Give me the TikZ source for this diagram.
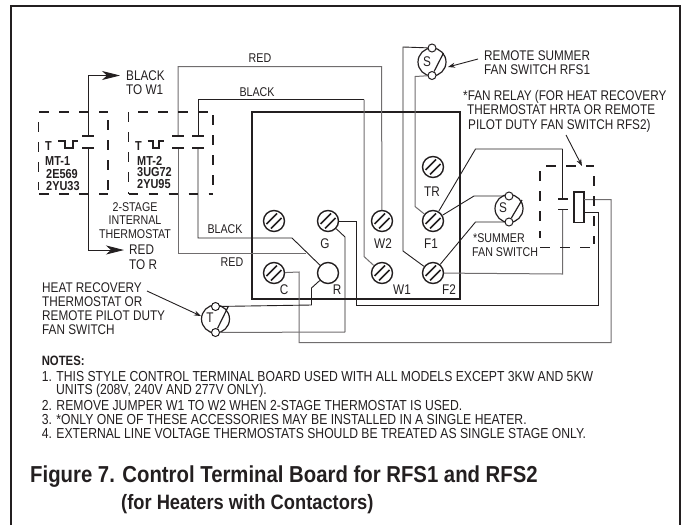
\documentclass[tikz,border=0pt]{standalone}
\usepackage{fontspec}
\setmainfont[FakeStretch=0.84]{Liberation Sans}
\newfontfamily\titlefont[FakeStretch=0.88]{Liberation Sans}
\usepackage{xcolor}
\usepackage{tikz}
\usetikzlibrary{arrows.meta, positioning}
\definecolor{inkline}{HTML}{231F20}
\tikzset{
  wire/.style={line width=0.9pt, draw=inkline},
  greywire/.style={line width=1pt, draw=inkline!65},
  board/.style={line width=1.6pt, draw=inkline},
  dashbox/.style={line width=1.3pt, draw=inkline, dash pattern=on 9.5pt off 10.5pt},
  contact/.style={line width=1.3pt, draw=inkline},
  screw/.style={circle, draw=inkline, line width=1.4pt, minimum size=21pt, inner sep=0pt, fill=white},
  tiny/.style={circle, draw=inkline, line width=1pt, minimum size=8pt, inner sep=0pt, fill=white},
  swbody/.style={circle, draw=inkline, line width=1.2pt, minimum size=28pt, inner sep=0pt},
  lbl/.style={font=\fontsize{14}{15}\selectfont, text=inkline, inner sep=0pt, text height=9.6pt, text depth=0pt},
  lblL/.style={lbl, anchor=west},
  wirelbl/.style={lbl, font=\fontsize{12.7}{14}\selectfont},
  boldlbl/.style={font=\fontsize{13}{14}\selectfont\bfseries, text=inkline, inner sep=0pt, anchor=west},
  note/.style={font=\fontsize{14.5}{15}\selectfont, text=inkline, inner sep=0pt, anchor=west, text height=10pt, text depth=0pt},
  title/.style={font=\titlefont\fontsize{23.1}{24}\selectfont\bfseries, text=inkline, inner sep=0pt, anchor=west, text height=16pt, text depth=0pt},
  subtitle/.style={title, font=\titlefont\fontsize{20.8}{22}\selectfont\bfseries, text height=15pt},
  pointer/.style={line width=0.9pt, draw=inkline, -{Stealth[length=7pt,width=5pt]}},
  bigarrow/.style={line width=0.9pt, draw=inkline, -{Stealth[length=18pt,width=9pt,inset=5pt]}}
}
\newcommand{\screwhatch}[1]{
  \draw[line width=1.6pt, draw=inkline] ([shift={(-7.5,3)}]#1.center) -- ([shift={(3,-7.5)}]#1.center);
  \draw[line width=1.6pt, draw=inkline] ([shift={(-3,7.5)}]#1.center) -- ([shift={(7.5,-3)}]#1.center);
}
\begin{document}
\begin{tikzpicture}[x=1pt,y=-1pt]
\useasboundingbox (0,0) rectangle (684,525);
% frame
\draw[line width=2.6pt, draw=inkline] (11,525) -- (11,6) -- (680,6) -- (680,525);
% terminal board
\draw[board] (252,112) rectangle (460,299);
% wires first, terminals sit on top
\coordinate (mtoneup) at (88,136);
\coordinate (mtonedn) at (88,148);
\coordinate (mtwoaup) at (178,136);
\coordinate (mtwoadn) at (178,148);
\coordinate (mtwobup) at (198,136);
\coordinate (mtwobdn) at (198,148);
\coordinate (relayup) at (562.5,199);
\coordinate (relaydn) at (562.5,209);
\coordinate (blackend) at (120,75.5);
\coordinate (redend) at (124,250);
% terminals
\node[screw] (tblank) at (274,221) {};
\node[screw] (tc) at (274,273) {};
\node[screw] (tg) at (328,221) {};
\node[screw] (tr) at (328,273) {};
\node[screw] (twtwo) at (382,221) {};
\node[screw] (twone) at (382,273) {};
\node[screw] (ttr) at (433,167) {};
\node[screw] (tfone) at (433,221) {};
\node[screw] (tftwo) at (433,273) {};
% switches
\node[swbody] (swr) at (432,62) {};
\node[swbody] (sws) at (509,208.5) {};
\node[swbody] (swt) at (215.5,319) {};
\node[tiny] (swrtop) at (432,48) {};
\node[tiny] (swrbot) at (432,75.5) {};
\node[tiny] (swstop) at (509,196) {};
\node[tiny] (swsbot) at (509,222) {};
\node[tiny] (swttop) at (215.5,306.5) {};
\node[tiny] (swtbot) at (215.5,332.5) {};
\draw[line width=1.2pt, draw=inkline] (swrbot) -- (443.5,53);
\draw[line width=1.2pt, draw=inkline] (swsbot) -- (522,200);
\draw[line width=1.2pt, draw=inkline] (swtbot) -- (228,307);
% relay coil
\node[draw=inkline, line width=1.5pt, minimum width=10pt, minimum height=30.5pt, inner sep=0pt, fill=white] (coil) at (579,207) {};
% wiring
\draw[greywire] (mtwoaup) -- (178,66.5) -- (381.5,66.5) -- (twtwo);
\draw[wire] (mtwobup) -- (198,99.5) -- (364,99.5);
\draw[greywire] (364,99.5) -- (364,256.5) -- (twone);
\draw[wire] (mtwobdn) -- (198,238) -- (292,238) -- (tr);
\draw[greywire] (mtwoadn) -- (178,253) -- (306,253);
\draw[wire] (swrtop) -- (403,47) -- (403,251) -- (tftwo);
\draw[greywire] (swrbot) -- (415,76.5) -- (415,206.5) -- (tfone);
\draw[wire] (relayup) -- (562.5,149);
\draw[wire] (562.5,149) -- (475.5,149) -- (tfone);
\draw[greywire] (relaydn) -- (562.5,274) -- (tftwo);
\draw[wire] (swstop) -- (474,196) -- (tfone);
\draw[wire] (swsbot) -- (475.5,222) -- (tftwo);
\draw[greywire] (584,199.5) -- (611,199.5) -- (611,342.5) -- (299,342.5) -- (299,272) -- (tc);
\draw[wire] (584,212) -- (598,212) -- (598,305) -- (356,305) -- (356,221) -- (tg);
\draw[wire] (swttop) -- (311.5,305) -- (311.5,288) -- (tr);
\draw[greywire] (swtbot) -- (345,332);
\draw[wire] (345,332) -- (345,237) -- (tg);
% screw hatching
\foreach \t in {tblank,tc,tg,twtwo,twone,ttr,tfone,tftwo}{
  \screwhatch{\t}
}
% contacts
\foreach \cx in {88,178,198}{
  \draw[contact] (\cx-6,136) -- (\cx+6,136);
  \draw[contact] (\cx-6,148) -- (\cx+6,148);
}
\draw[contact] (558,199) -- (568,199);
\draw[contact] (558,209.5) -- (568,209.5);
% thermostat boxes
\draw[dashbox] (39,112) -- (108,112);
\draw[dashbox] (39,194) -- (108,194);
\draw[dashbox] (38.5,122) -- (38.5,190);
\draw[dashbox] (108,120) -- (108,190);
\draw[dashbox] (138,112) -- (213,112);
\draw[dashbox] (128.5,194) -- (213,194);
\draw[dashbox] (128.5,112) -- (128.5,194);
\draw[dashbox] (213,115) -- (213,190);
% heat anticipator pulses
\draw[line width=1.2pt, draw=inkline] (58,141) -- (65,141) -- (65,148) -- (73,148) -- (73,141) -- (78,141);
\draw[line width=1.2pt, draw=inkline] (147.5,141) -- (153,141) -- (153,148) -- (159,148) -- (159,141) -- (164,141);
% relay box
\draw[dashbox] (546,166) -- (594,166);
\draw[dashbox] (540,171) -- (540,238);
\draw[dashbox] (594,176) -- (594,244);
\draw[dashbox] (540,247.5) -- (590,247.5);
% arrows
\draw[bigarrow] (mtoneup) -- (88,75.5) -- (blackend);
\draw[wire] (mtonedn) -- (88,250);
\draw[bigarrow] (88,250) -- (redend);
\draw[pointer] (478,59) -- (448,67);
\draw[pointer] (566,135) -- (582,166);
\draw[pointer] (147,291) -- (201,316);
% labels
\node[lblL] (lblblackw) at (126,76) {BLACK};
\node[lblL] (lbltow) at (126,90) {TO W1};
\node[wirelbl] (lblstage) at (135,207) {2-STAGE};
\node[wirelbl] (lblinternal) at (135,220) {INTERNAL};
\node[wirelbl] (lblthermo) at (135,234) {THERMOSTAT};
\node[lblL] (lblredr) at (129,250) {RED};
\node[lblL] (lbltor) at (129,265) {TO R};
\node[wirelbl] (lblred) at (260,58) {RED};
\node[wirelbl] (lblblack) at (257,92) {BLACK};
\node[wirelbl] (lblblackb) at (225,229) {BLACK};
\node[wirelbl] (lblredb) at (232,262) {RED};
\node[lbl] (lblg) at (325,244) {G};
\node[lbl] (lblwtwo) at (383,244) {W2};
\node[lbl] (lblfone) at (431,244) {F1};
\node[lbl] (lblc) at (284,290) {C};
\node[lbl] (lblr) at (337,290) {R};
\node[lbl] (lblwone) at (402,290) {W1};
\node[lbl] (lblftwo) at (449,290) {F2};
\node[lbl] (lbltr) at (432,192) {TR};
\node[lbl] at (427,62) {S};
\node[lbl] at (503,208) {S};
\node[lbl] at (210,318) {T};
\node[lblL] at (484,56) {REMOTE SUMMER};
\node[lblL] at (484,70) {FAN SWITCH RFS1};
\node[lblL] at (463,96) {*FAN RELAY (FOR HEAT RECOVERY};
\node[lblL] at (467,110) {THERMOSTAT HRTA OR REMOTE};
\node[lblL] at (468,125) {PILOT DUTY FAN SWITCH RFS2)};
\node[wirelbl, anchor=west] at (473,238) {*SUMMER};
\node[wirelbl, anchor=west] at (472,252) {FAN SWITCH};
\node[lblL] at (42,288) {HEAT RECOVERY};
\node[lblL] at (42,302) {THERMOSTAT OR};
\node[lblL] at (42,316) {REMOTE PILOT DUTY};
\node[lblL] at (42,330) {FAN SWITCH};
\node[boldlbl] at (45,146) {T};
\node[boldlbl] at (45,161.5) {MT-1};
\node[boldlbl] at (46,174) {2E569};
\node[boldlbl] at (46,186) {2YU33};
\node[boldlbl] at (135,146) {T};
\node[boldlbl] at (137,161) {MT-2};
\node[boldlbl] at (137,172.5) {3UG72};
\node[boldlbl] at (137,184) {2YU95};
% notes
\node[boldlbl, font=\fontsize{13.5}{14}\selectfont\bfseries] at (41.6,361) {NOTES:};
\node[note] at (41.6,376) {1. THIS STYLE CONTROL TERMINAL BOARD USED WITH ALL MODELS EXCEPT 3KW AND 5KW};
\node[note] at (56,389.5) {UNITS (208V, 240V AND 277V ONLY).};
\node[note] at (41.6,405) {2. REMOVE JUMPER W1 TO W2 WHEN 2-STAGE THERMOSTAT IS USED.};
\node[note] at (41.6,419) {3. *ONLY ONE OF THESE ACCESSORIES MAY BE INSTALLED IN A SINGLE HEATER.};
\node[note] at (41.6,433) {4. EXTERNAL LINE VOLTAGE THERMOSTATS SHOULD BE TREATED AS SINGLE STAGE ONLY.};
\node[title] at (30,474) {Figure 7. Control Terminal Board for RFS1 and RFS2};
\node[subtitle] at (121,502) {(for Heaters with Contactors)};
\end{tikzpicture}
\end{document}
